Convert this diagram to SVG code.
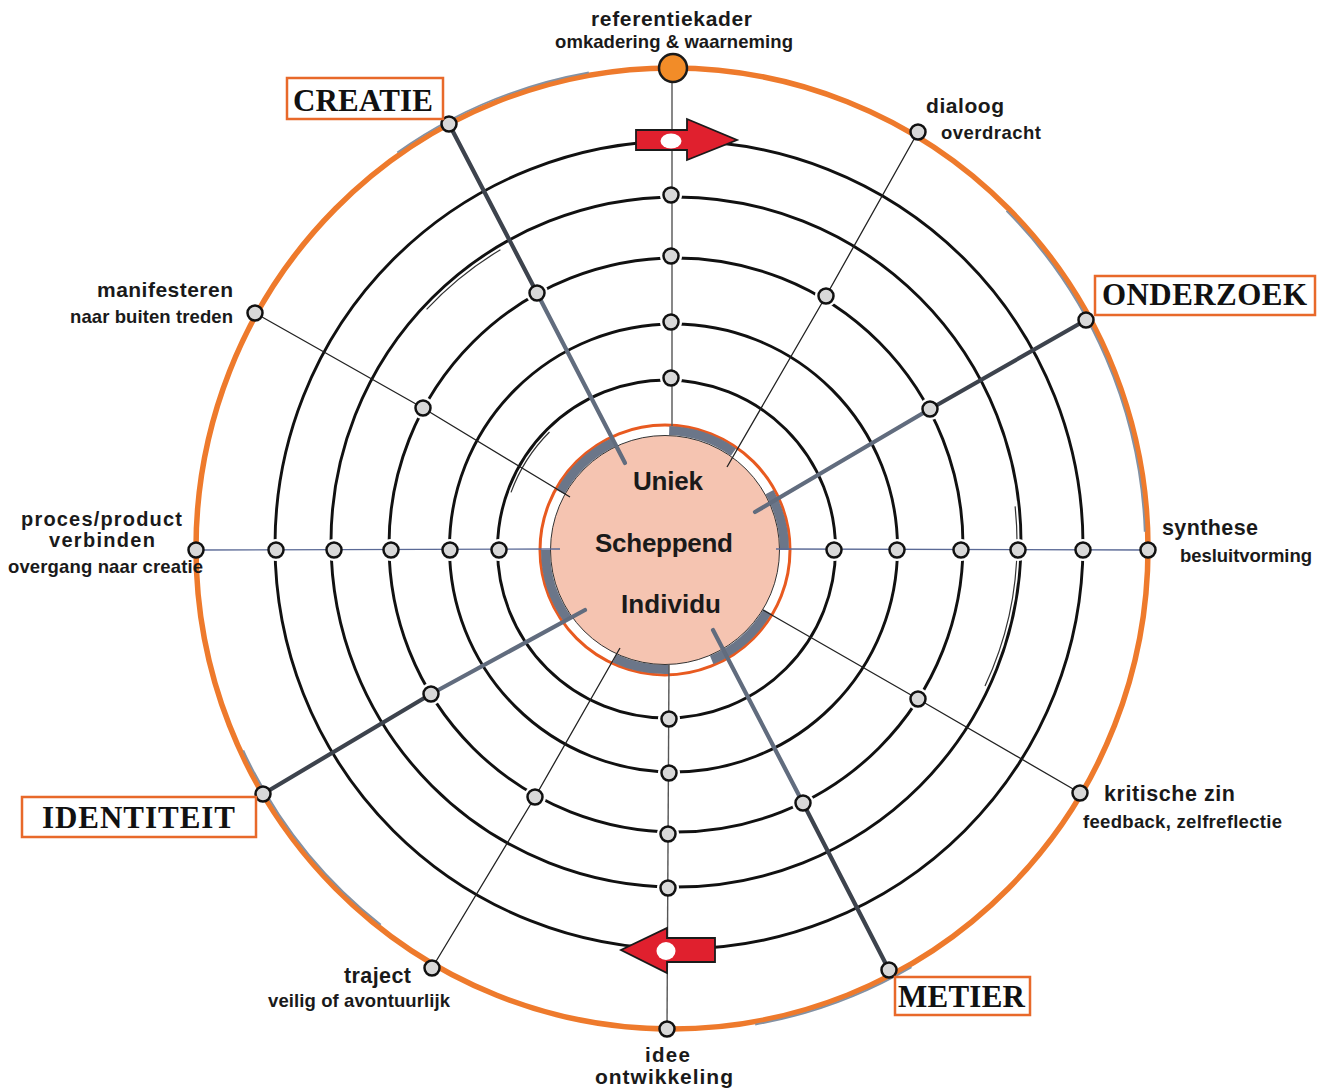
<svg xmlns="http://www.w3.org/2000/svg" width="1323" height="1089" viewBox="0 0 1323 1089">
<style>
.ring{fill:none;stroke:#111;stroke-width:2.9}
.dbl{fill:none;stroke:#333;stroke-width:1.2}
.halo{fill:#fff;stroke:none}
.dot{fill:#d8d8d8;stroke:#111;stroke-width:2.5}
.thin{stroke:#222;stroke-width:1.3;fill:none}
.hline{stroke:#5b6a96;stroke-width:1.4;fill:none}
.vline{stroke:#555;stroke-width:1.4;fill:none}
.thickO{stroke:#3d434d;stroke-width:4.2;fill:none;stroke-linecap:round}
.thickI{stroke:#616c7e;stroke-width:4.2;fill:none;stroke-linecap:round}
.greyband{fill:none;stroke:#6b7689;stroke-width:9}
.greyedge{fill:none;stroke:#8391a3;stroke-width:1.8}
.lbl{font-family:"Liberation Sans",Arial,sans-serif;font-weight:bold;fill:#1a1a1a}
.big{font-family:"Liberation Serif","Times New Roman",serif;font-weight:bold;font-size:31px;fill:#111}
.box{fill:#fff;stroke:#e8692a;stroke-width:2.5}
.arrow{fill:#e0202e;stroke:#1a1a1a;stroke-width:1.8;stroke-linejoin:miter}
</style>
<rect width="1323" height="1089" fill="#fff"/>

<g id="rings">
  <ellipse cx="672" cy="548.5" rx="476" ry="480.5" fill="none" stroke="#ee7a2c" stroke-width="5.5"/>
  <path class="greyedge" d="M 1144.7 531.8 A 473 477.5 0 0 0 1006.5 210.9"/>
  <path class="greyedge" d="M 243.3 750.3 A 473 477.5 0 0 0 380.8 924.8"/>
  <path class="greyedge" d="M 755.2 1024.6 A 479 483.5 0 0 0 911.5 967.2"/>
  <path class="greyedge" d="M 588.8 72.4 A 479 483.5 0 0 0 397.3 152.4"/>
  <circle class="ring" cx="666.5" cy="549" r="169"/>
  <circle class="ring" cx="673.5" cy="548" r="224"/>
  <circle class="ring" cx="676" cy="545" r="287"/>
  <circle class="ring" cx="676" cy="542" r="345"/>
  <circle class="ring" cx="679" cy="545" r="404"/>
  <path class="dbl" d="M 549.5 432 A 165.5 165.5 0 0 0 511 492.4"/>
  <path class="dbl" d="M 500.4 249.7 A 341 341 0 0 0 426.6 309.4"/>
  <path class="dbl" d="M 985 686.1 A 341 341 0 0 0 1015.1 506.4"/>
</g>

<g id="halos">
  <circle class="halo" cx="276" cy="550" r="11"/>
  <circle class="halo" cx="334" cy="550" r="11"/>
  <circle class="halo" cx="391" cy="550" r="11"/>
  <circle class="halo" cx="450" cy="550" r="11"/>
  <circle class="halo" cx="499" cy="550" r="11"/>
  <circle class="halo" cx="834" cy="550" r="11"/>
  <circle class="halo" cx="897" cy="550" r="11"/>
  <circle class="halo" cx="961" cy="550" r="11"/>
  <circle class="halo" cx="1018" cy="550" r="11"/>
  <circle class="halo" cx="1083" cy="550" r="11"/>
  <circle class="halo" cx="671" cy="195" r="11"/>
  <circle class="halo" cx="671" cy="256" r="11"/>
  <circle class="halo" cx="671" cy="322" r="11"/>
  <circle class="halo" cx="671" cy="378" r="11"/>
  <circle class="halo" cx="669" cy="719" r="11"/>
  <circle class="halo" cx="669" cy="773" r="11"/>
  <circle class="halo" cx="668" cy="834" r="11"/>
  <circle class="halo" cx="668" cy="888" r="11"/>
  <circle class="halo" cx="537" cy="293" r="11"/>
  <circle class="halo" cx="826" cy="296" r="11"/>
  <circle class="halo" cx="930" cy="409" r="11"/>
  <circle class="halo" cx="918" cy="699" r="11"/>
  <circle class="halo" cx="803" cy="803" r="11"/>
  <circle class="halo" cx="535" cy="797" r="11"/>
  <circle class="halo" cx="431" cy="694" r="11"/>
  <circle class="halo" cx="423" cy="408" r="11"/>
</g>

<g id="center">
  <circle cx="665" cy="550" r="125" fill="#fff" stroke="#e85a20" stroke-width="3"/>
  <path class="greyband" d="M 784.5 550 A 119.5 119.5 0 0 0 769.5 492.1"/>
  <path class="greyband" d="M 733.5 452.1 A 119.5 119.5 0 0 0 669.2 430.6"/>
  <path class="greyband" d="M 612.6 442.6 A 119.5 119.5 0 0 0 560.5 492.1"/>
  <path class="greyband" d="M 545.5 550 A 119.5 119.5 0 0 0 568.3 620.2"/>
  <path class="greyband" d="M 614.5 658.3 A 119.5 119.5 0 0 0 669.2 669.4"/>
  <path class="greyband" d="M 711.7 660 A 119.5 119.5 0 0 0 767.4 611.5"/>
  <circle cx="665" cy="550" r="114.5" fill="#f5c4b1" stroke="#333" stroke-width="1"/>
</g>

<g id="connectors">
  <line class="vline" x1="672" y1="68" x2="672" y2="426"/>
  <line class="vline" x1="669" y1="664" x2="667" y2="1029"/>
  <line class="hline" x1="196" y1="550" x2="560" y2="549"/>
  <line class="hline" x1="776" y1="549" x2="1148" y2="550"/>
  <polyline class="thin" points="918,132 826,296 727,467"/>
  <polyline class="thin" points="255,313 423,408 570,497"/>
  <polyline class="thin" points="1080,793 918,699 763,610"/>
  <polyline class="thin" points="432,968 535,797 620,648"/>
  <line class="thickO" x1="449" y1="124" x2="537" y2="293"/>
  <line class="thickI" x1="537" y1="293" x2="625" y2="463"/>
  <line class="thickO" x1="1086" y1="320" x2="930" y2="409"/>
  <line class="thickI" x1="930" y1="409" x2="755" y2="512"/>
  <line class="thickO" x1="263" y1="794" x2="431" y2="694"/>
  <line class="thickI" x1="431" y1="694" x2="585" y2="610"/>
  <line class="thickO" x1="889" y1="970" x2="803" y2="803"/>
  <line class="thickI" x1="803" y1="803" x2="713" y2="630"/>
  <polygon class="arrow" points="636,130 687,130 687,119 737,140 687,160 687,150 636,150"/>
  <ellipse cx="671" cy="141" rx="10.5" ry="7.5" fill="#fff"/>
  <polygon class="arrow" points="715,938 667,938 667,928 621,950 667,973 667,962 715,962"/>
  <ellipse cx="666" cy="951" rx="9.5" ry="9" fill="#fff"/>
</g>

<g id="axis-dots">
  <circle class="dot" cx="276" cy="550" r="7.5"/>
  <circle class="dot" cx="334" cy="550" r="7.5"/>
  <circle class="dot" cx="391" cy="550" r="7.5"/>
  <circle class="dot" cx="450" cy="550" r="7.5"/>
  <circle class="dot" cx="499" cy="550" r="7.5"/>
  <circle class="dot" cx="834" cy="550" r="7.5"/>
  <circle class="dot" cx="897" cy="550" r="7.5"/>
  <circle class="dot" cx="961" cy="550" r="7.5"/>
  <circle class="dot" cx="1018" cy="550" r="7.5"/>
  <circle class="dot" cx="1083" cy="550" r="7.5"/>
  <circle class="dot" cx="671" cy="195" r="7.5"/>
  <circle class="dot" cx="671" cy="256" r="7.5"/>
  <circle class="dot" cx="671" cy="322" r="7.5"/>
  <circle class="dot" cx="671" cy="378" r="7.5"/>
  <circle class="dot" cx="669" cy="719" r="7.5"/>
  <circle class="dot" cx="669" cy="773" r="7.5"/>
  <circle class="dot" cx="668" cy="834" r="7.5"/>
  <circle class="dot" cx="668" cy="888" r="7.5"/>
  <circle class="dot" cx="537" cy="293" r="7.5"/>
  <circle class="dot" cx="826" cy="296" r="7.5"/>
  <circle class="dot" cx="930" cy="409" r="7.5"/>
  <circle class="dot" cx="918" cy="699" r="7.5"/>
  <circle class="dot" cx="803" cy="803" r="7.5"/>
  <circle class="dot" cx="535" cy="797" r="7.5"/>
  <circle class="dot" cx="431" cy="694" r="7.5"/>
  <circle class="dot" cx="423" cy="408" r="7.5"/>
</g>

<g id="node-center">
  <text class="lbl" x="633" y="490" font-size="26" textLength="70">Uniek</text>
  <text class="lbl" x="595" y="552" font-size="26" textLength="138">Scheppend</text>
  <text class="lbl" x="621" y="613" font-size="26" textLength="100">Individu</text>
</g>

<g id="node-referentiekader">
  <circle cx="673" cy="68" r="14" fill="#f28c28" stroke="#1a1a1a" stroke-width="2.5"/>
  <text class="lbl" x="591" y="26" font-size="21" textLength="161">referentiekader</text>
  <text class="lbl" x="555" y="48" font-size="18.5" textLength="238">omkadering &amp; waarneming</text>
</g>

<g id="node-dialoog">
  <circle class="dot" cx="918" cy="132" r="7.5"/>
  <text class="lbl" x="926" y="113" font-size="21" textLength="78">dialoog</text>
  <text class="lbl" x="941" y="139" font-size="18.5" textLength="100">overdracht</text>
</g>

<g id="node-onderzoek">
  <circle class="dot" cx="1086" cy="320" r="7.5"/>
  <rect class="box" x="1095" y="276" width="220" height="39"/>
  <text class="big" x="1102" y="305" textLength="205">ONDERZOEK</text>
</g>

<g id="node-synthese">
  <circle class="dot" cx="1148" cy="550" r="7.5"/>
  <text class="lbl" x="1162" y="535" font-size="21.5" textLength="96">synthese</text>
  <text class="lbl" x="1180" y="562" font-size="18.5" textLength="132">besluitvorming</text>
</g>

<g id="node-kritische-zin">
  <circle class="dot" cx="1080" cy="793" r="7.5"/>
  <text class="lbl" x="1104" y="801" font-size="21.5" textLength="131">kritische zin</text>
  <text class="lbl" x="1083" y="828" font-size="18.5" textLength="199">feedback, zelfreflectie</text>
</g>

<g id="node-metier">
  <circle class="dot" cx="889" cy="970" r="7.5"/>
  <rect class="box" x="895" y="977" width="135" height="38"/>
  <text class="big" x="898" y="1007" textLength="127">METIER</text>
</g>

<g id="node-idee">
  <circle class="dot" cx="667" cy="1029" r="7.5"/>
  <text class="lbl" x="645" y="1062" font-size="20.5" textLength="45">idee</text>
  <text class="lbl" x="595" y="1084" font-size="21" textLength="138">ontwikkeling</text>
</g>

<g id="node-traject">
  <circle class="dot" cx="432" cy="968" r="7.5"/>
  <text class="lbl" x="344" y="983" font-size="21.5" textLength="67">traject</text>
  <text class="lbl" x="268" y="1007" font-size="18.5" textLength="182">veilig of avontuurlijk</text>
</g>

<g id="node-identiteit">
  <circle class="dot" cx="263" cy="794" r="7.5"/>
  <rect class="box" x="22" y="797" width="234" height="40"/>
  <text class="big" x="42" y="828" textLength="193">IDENTITEIT</text>
</g>

<g id="node-proces">
  <circle class="dot" cx="196" cy="550" r="7.5"/>
  <text class="lbl" x="21" y="526" font-size="20" textLength="161">proces/product</text>
  <text class="lbl" x="49" y="547" font-size="20" textLength="106">verbinden</text>
  <text class="lbl" x="8" y="573" font-size="18.5" textLength="195">overgang naar creatie</text>
</g>

<g id="node-manifesteren">
  <circle class="dot" cx="255" cy="313" r="7.5"/>
  <text class="lbl" x="97" y="297" font-size="21" textLength="136">manifesteren</text>
  <text class="lbl" x="70" y="323" font-size="18.5" textLength="163">naar buiten treden</text>
</g>

<g id="node-creatie">
  <circle class="dot" cx="449" cy="124" r="7.5"/>
  <rect class="box" x="287" y="78" width="156" height="41"/>
  <text class="big" x="293" y="111" textLength="140">CREATIE</text>
</g>
</svg>
